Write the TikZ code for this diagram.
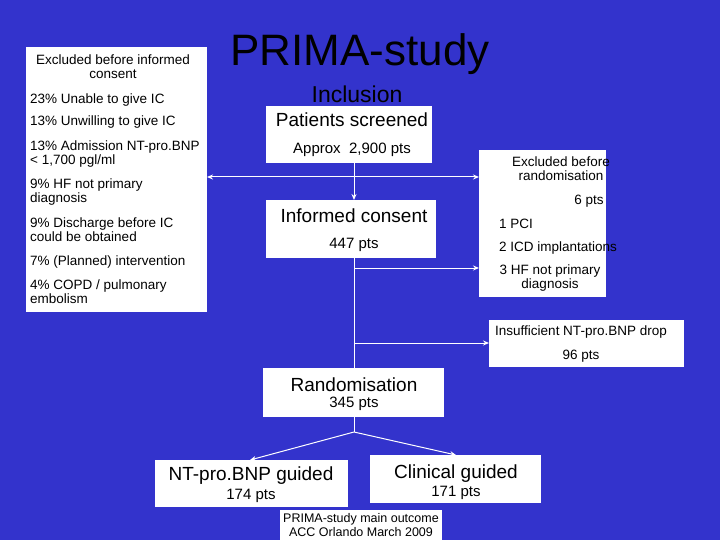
\documentclass[tikz,border=0pt]{standalone}
\usepackage{fontspec}
\setmainfont{Liberation Sans}
\usetikzlibrary{arrows.meta}
\definecolor{bg}{RGB}{51,51,204}
\begin{document}
\begin{tikzpicture}[x=1pt,y=-1pt,
  box/.style={draw=none,fill=white},
  t/.style={font=\fontsize{13.5}{14}\selectfont,align=left,anchor=west,inner sep=0},
  tc/.style={font=\fontsize{13.5}{14}\selectfont,align=center,inner sep=0},
  mid/.style={font=\fontsize{15}{16}\selectfont,inner sep=0},
  big/.style={font=\fontsize{19}{20}\selectfont,inner sep=0},
  arr/.style={draw=white,line width=1pt,-{Stealth[length=6pt,width=5pt]}},
  ln/.style={draw=white,line width=1pt}]
\fill[bg] (0,0) rectangle (720,540);
\useasboundingbox (0,0) rectangle (720,540);
% left box
\fill[white] (26,47) rectangle (207,312); \coordinate (leftE) at (207,177);
\node[tc] at (113,67) {Excluded before informed\\consent};
\node[t] at (30,100) {23\% Unable to give IC};
\node[t] at (30,122) {13\% Unwilling to give IC};
\node[t] at (30,154) {13\% Admission NT-pro.BNP\\< 1,700 pgl/ml};
\node[t] at (30,192) {9\% HF not primary\\diagnosis};
\node[t] at (30,230) {9\% Discharge before IC\\could be obtained};
\node[t] at (30,262) {7\% (Planned) intervention};
\node[t] at (30,292) {4\% COPD / pulmonary\\embolism};
% title
\node[font=\fontsize{44}{48}\selectfont,inner sep=0] (title) at (360,54) {PRIMA-study};
\node[font=\fontsize{23}{25}\selectfont,inner sep=0] (incl) at (357,94) {Inclusion};
% patients
\node[box,minimum width=166,minimum height=57,anchor=north west] (ps) at (266,106) {};
\node[big] at (352,120) {Patients screened};
\node[mid] at (352,150) {Approx\ \ 2,900 pts};
% excluded rand
\node[box,minimum width=127,minimum height=147,anchor=north west] (ex) at (479,150) {};
\node[tc] at (561,169) {Excluded before\\randomisation};
\node[tc] at (589,201) {6 pts};
\node[t] at (499,224) {1 PCI};
\node[t] at (499,248) {2 ICD implantations};
\node[tc] at (550,278) {3 HF not primary\\diagnosis};
% informed consent
\node[box,minimum width=170,minimum height=58,anchor=north west] (ic) at (266,200) {};
\node[big] at (354,216) {Informed consent};
\node[mid] at (354,245) {447 pts};
% insufficient
\node[box,minimum width=195,minimum height=47,anchor=north west] (ins) at (489,320) {};
\node[tc] at (581,332) {Insufficient NT-pro.BNP drop};
\node[tc] at (581,356) {96 pts};
% randomisation
\node[box,minimum width=181,minimum height=49,anchor=north west] (ra) at (263,368) {};
\node[big] at (354,385) {Randomisation};
\node[mid] at (354,404) {345 pts};
% NT guided
\node[box,minimum width=193,minimum height=47,anchor=north west] (nt) at (155,460) {};
\node[big] at (251,476) {NT-pro.BNP guided};
\node[mid] at (251,496) {174 pts};
% clinical
\node[box,minimum width=171,minimum height=48,anchor=north west] (cg) at (370,455) {};
\node[big] at (456,474) {Clinical guided};
\node[mid] at (456,493) {171 pts};
% bottom
\node[box,minimum width=162,minimum height=32,anchor=north west] (bt) at (280,510) {};
\node[tc,font=\fontsize{12.5}{14}\selectfont] at (361,525) {PRIMA-study main outcome\\ACC Orlando March 2009};
% connectors
\coordinate (j1) at (354,177);
\coordinate (j2) at (354,268);
\coordinate (j3) at (354,343);
\coordinate (j4) at (354,432);
\draw[ln] (354,163) -- (j1);
\draw[arr] (j1) -- (354,200);
\draw[arr] (j1) -- (leftE);
\draw[arr] (j1) -- (ex.west |- j1);
\draw[ln] (354,258) -- (354,368);
\draw[arr] (j2) -- (ex.west |- j2);
\draw[arr] (j3) -- (ins.west |- j3);
\draw[ln] (354,417) -- (j4);
\draw[arr] (j4) -- (250,460);
\draw[arr] (j4) -- (456,455);
\end{tikzpicture}
\end{document}
